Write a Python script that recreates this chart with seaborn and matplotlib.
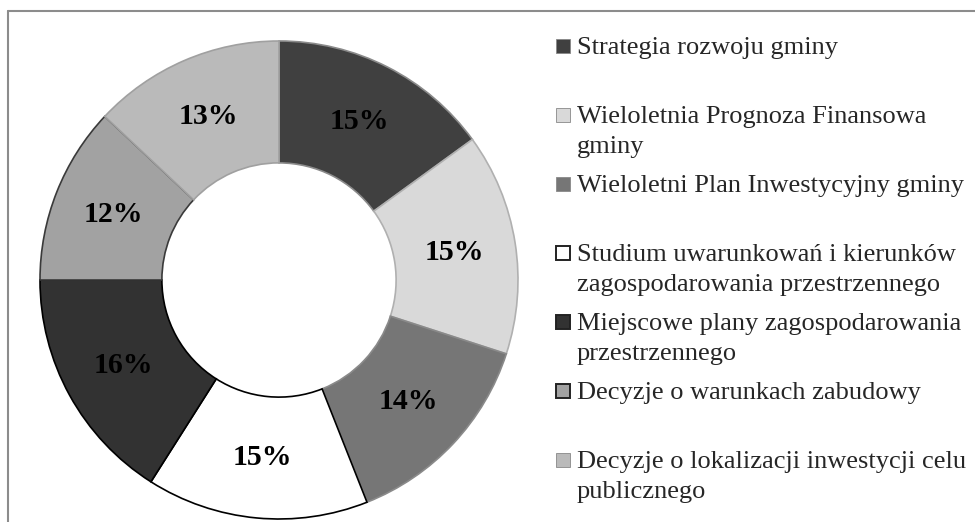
import matplotlib
matplotlib.use("Agg")
import matplotlib.pyplot as plt
import matplotlib.patches as mpatches
import seaborn as sns

# Dane wykresu
categories = [
    "Strategia rozwoju gminy",
    "Wieloletnia Prognoza Finansowa\ngminy",
    "Wieloletni Plan Inwestycyjny gminy",
    "Studium uwarunkowań i kierunków\nzagospodarowania przestrzennego",
    "Miejscowe plany zagospodarowania\nprzestrzennego",
    "Decyzje o warunkach zabudowy",
    "Decyzje o lokalizacji inwestycji celu\npublicznego",
]
values = [15, 15, 14, 15, 16, 12, 13]

colors = sns.color_palette(["#404040", "#d9d9d9", "#767676", "#ffffff",
                            "#323232", "#a2a2a2", "#bababa"])
edges = ["#8a8a8a", "#b0b0b0", "#8a8a8a", "#000000", "#000000", "#3a3a3a", "#a0a0a0"]

sns.set_style("white")
plt.rcParams['font.family'] = ['Liberation Serif', 'DejaVu Serif']

W, H = 975, 522
fig = plt.figure(figsize=(W / 100, H / 100), dpi=100)

# ramka wykresu (tylko górna i lewa krawędź widoczna)
fig.add_artist(plt.Line2D([8 / W, 1.0], [1 - 11 / H, 1 - 11 / H], color="#8c8c8c", lw=1.5,
                          transform=fig.transFigure))
fig.add_artist(plt.Line2D([8 / W, 8 / W], [0.0, 1 - 11 / H], color="#8c8c8c", lw=1.5,
                          transform=fig.transFigure))

# pierścień
cx, cy, r = 279, 280, 239
ax = fig.add_axes([(cx - r) / W, (H - cy - r) / H, 2 * r / W, 2 * r / H])
wedges, texts, autotexts = ax.pie(
    values, colors=colors, startangle=90, counterclock=False,
    autopct=lambda p: f"{p:.0f}%", pctdistance=0.745,
    wedgeprops=dict(width=0.51, linewidth=1.2),
    textprops=dict(fontsize=21.5, fontweight="bold", color="black"),
)
for w, ec in zip(wedges, edges):
    w.set_edgecolor(ec)
    w.set_clip_on(False)
ax.set_xlim(-1, 1)
ax.set_ylim(-1, 1)
ax.set_aspect("equal")
ax.axis("off")

# legenda
for i, (lab, col) in enumerate(zip(categories, colors)):
    ymid = 46 + i * 69.0
    fig.add_artist(mpatches.Rectangle((556 / W, 1 - (ymid + 7) / H), 14 / W, 14 / H,
                                      facecolor=col, edgecolor="#222222" if i in (3, 4, 5) else "#888888",
                                      lw=1.4 if i in (3, 4, 5) else 0.6,
                                      transform=fig.transFigure))
    fig.text(577 / W, 1 - (ymid - 9) / H, lab, fontsize=19, va="top", ha="left",
             linespacing=1.45)

fig.savefig("out.png", dpi=100)
